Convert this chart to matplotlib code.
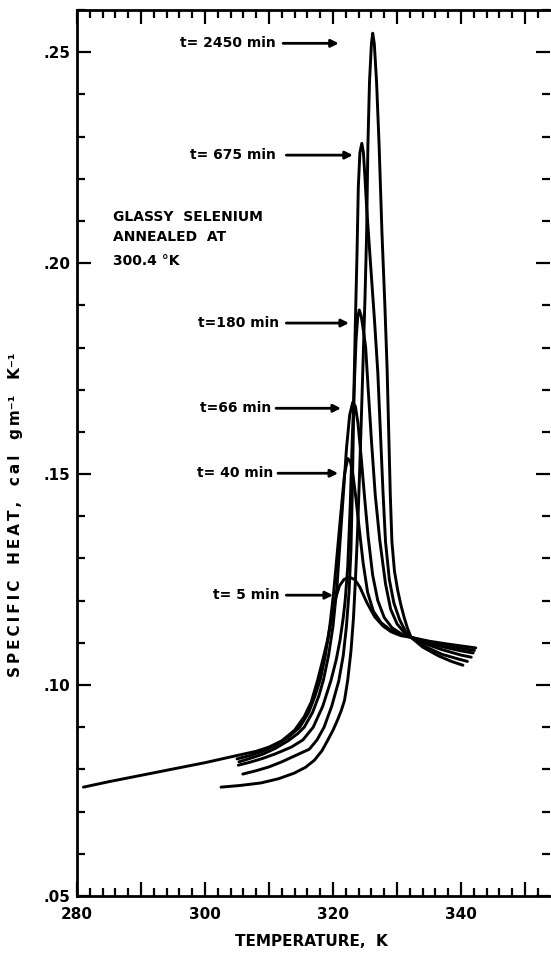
import matplotlib
matplotlib.use("Agg")
import matplotlib.pyplot as plt
from matplotlib.ticker import MultipleLocator, FuncFormatter

plt.rcParams['font.family'] = ['DejaVu Sans']
plt.rcParams['font.weight'] = 'bold'

# specific heat curves after annealing at 300.4 K (temperature in K, cp in cal/g/K)
t5_T = [281.0, 285, 290, 295, 300, 305, 308, 310, 312, 314, 315.5, 316.6, 317.6, 318.4,
        319.2, 319.8, 320.4, 321.0, 321.7, 322.5, 323.4, 324.2, 325.3, 326.5, 327.8,
        329.1, 330.6, 332.2, 335, 338, 342.3]
t5_cp = [0.0758, 0.0771, 0.0786, 0.0801, 0.0816, 0.0833, 0.0843, 0.0853, 0.0868, 0.0893,
         0.0925, 0.0960, 0.1012, 0.1060, 0.1110, 0.1160, 0.1205, 0.1235, 0.1250, 0.1256,
         0.1250, 0.1232, 0.1195, 0.1162, 0.1140, 0.1126, 0.1117, 0.1113, 0.1104, 0.1097,
         0.1088]

t40_T = [305.0, 307, 309, 311, 313, 314.8, 316.2, 317.2, 318.0, 318.8, 319.5, 320.1, 320.7,
         321.3, 321.8, 322.3, 322.7, 323.1, 323.6, 324.1, 324.7, 325.4, 326.3, 327.5,
         329.0, 330.6, 332.2, 334, 337, 340, 342.1]
t40_cp = [0.0825, 0.0833, 0.0843, 0.0857, 0.0876, 0.0900, 0.0935, 0.0975, 0.1012, 0.1070,
          0.1140, 0.1220, 0.1320, 0.1420, 0.1500, 0.1537, 0.1530, 0.1500, 0.1440, 0.1370,
          0.1290, 0.1220, 0.1175, 0.1148, 0.1130, 0.1120, 0.1113, 0.1106, 0.1096, 0.1087,
          0.1082]

t66_T = [305.3, 307, 309, 311, 313, 314.5, 315.5, 316.8, 317.8, 318.5, 319.3, 320.0, 320.6,
         321.1, 321.6, 322.1, 322.6, 323.1, 323.5, 323.9, 324.4, 324.9, 325.5, 326.2,
         327.0, 328.0, 329.2, 330.6, 332.2, 334, 337, 340, 341.9]
t66_cp = [0.0818, 0.0826, 0.0836, 0.0850, 0.0868, 0.0885, 0.0900, 0.0935, 0.0975, 0.1012,
          0.1070, 0.1140, 0.1230, 0.1340, 0.1450, 0.1560, 0.1640, 0.1671, 0.1660, 0.1620,
          0.1540, 0.1450, 0.1350, 0.1260, 0.1200, 0.1160, 0.1136, 0.1122, 0.1113, 0.1104,
          0.1091, 0.1081, 0.1076]

t180_T = [305.2, 307, 309, 311, 313.5, 315.3, 316.9, 318.4, 319.7, 320.5, 321.1, 321.6,
          321.9, 322.3, 322.7, 323.0, 323.3, 323.6, 323.85, 324.1, 324.4, 324.8, 325.1,
          325.5, 326.0, 326.6, 327.3, 328.2, 329.0, 330.0, 331.1, 332.2, 334, 337, 340,
          341.6]
t180_cp = [0.0810, 0.0817, 0.0826, 0.0837, 0.0853, 0.0870, 0.0900, 0.0950, 0.1012, 0.1060,
           0.1107, 0.1160, 0.1201, 0.1280, 0.1430, 0.1580, 0.1700, 0.1818, 0.1870, 0.1889,
           0.1875, 0.1835, 0.1800, 0.1700, 0.1580, 0.1450, 0.1344, 0.1240, 0.1180, 0.1145,
           0.1125, 0.1113, 0.1100, 0.1084, 0.1071, 0.1066]

t675_T = [305.9, 308, 310, 312, 314, 316.3, 317.5, 318.6, 319.8, 320.9, 321.6, 322.1, 322.5,
          322.8, 323.0, 323.15, 323.3, 323.5, 323.75, 323.95, 324.2, 324.5, 324.75, 325.0,
          325.25, 325.9, 326.5, 327.0, 327.4, 327.8, 328.2, 328.8, 329.5, 330.4, 331.3,
          332.2, 334, 337, 339.5, 341.0]
t675_cp = [0.0789, 0.0797, 0.0806, 0.0818, 0.0832, 0.0848, 0.0870, 0.0900, 0.0950, 0.1010,
           0.1070, 0.1140, 0.1220, 0.1320, 0.1450, 0.1580, 0.1720, 0.1865, 0.2024, 0.2180,
           0.2262, 0.2284, 0.2262, 0.2200, 0.2133, 0.1990, 0.1860, 0.1740, 0.1600, 0.1460,
           0.1340, 0.1250, 0.1195, 0.1155, 0.1128, 0.1113, 0.1094, 0.1073, 0.1062, 0.1056]

t2450_T = [302.5, 305.5, 308.75, 311.5, 313.9, 315.7, 317.1, 318.3, 319.2, 320.0, 320.7,
           321.3, 321.8, 322.3, 322.8, 323.2, 323.5, 323.8, 324.1, 324.4, 324.7, 325.0,
           325.25, 325.45, 325.7, 326.0, 326.2, 326.45, 326.8, 327.2, 327.65, 328.1,
           328.45, 328.7, 328.95, 329.2, 329.6, 330.1, 330.6, 331.1, 331.6, 332.2, 334,
           336.5, 338.5, 340.3]
t2450_cp = [0.0758, 0.0762, 0.0768, 0.0778, 0.0791, 0.0805, 0.0822, 0.0845, 0.0870, 0.0893,
            0.0917, 0.0940, 0.0964, 0.1012, 0.1080, 0.1160, 0.1250, 0.1350, 0.1480, 0.1620,
            0.1770, 0.1920, 0.2070, 0.2280, 0.2430, 0.2520, 0.2545, 0.2520, 0.2430, 0.2280,
            0.2070, 0.1900, 0.1750, 0.1600, 0.1450, 0.1340, 0.1270, 0.1225, 0.1190, 0.1161,
            0.1136, 0.1113, 0.1090, 0.1069, 0.1056, 0.1047]

series = [(t5_T, t5_cp), (t40_T, t40_cp), (t66_T, t66_cp),
          (t180_T, t180_cp), (t675_T, t675_cp), (t2450_T, t2450_cp)]

# annealing-time labels: text, text right edge (T, cp), arrow start T, arrow tip T
anneal_labels = ['t= 2450 min', 't= 675 min', 't=180 min', 't=66 min', 't= 40 min', 't= 5 min']
label_T = [311.1, 311.1, 311.6, 310.3, 310.6, 311.6]
label_cp = [0.2521, 0.2256, 0.1858, 0.1656, 0.1502, 0.1213]
arrow_start = [312.2, 312.7, 312.7, 311.1, 311.4, 312.7]
arrow_tip = [320.9, 323.1, 322.5, 321.25, 320.8, 320.0]


def spaced(word):
    # thin spaces between letters for a wider lettering
    return '\u2009'.join(word)


fig = plt.figure(figsize=(5.51, 9.59), dpi=100)
ax = fig.add_axes([77 / 551, 63 / 959, 473 / 551, 886 / 959])

for T, cp in series:
    ax.plot(T, cp, color='black', lw=2.1, solid_capstyle='round')

for txt, tx, ty, a0, a1 in zip(anneal_labels, label_T, label_cp, arrow_start, arrow_tip):
    ax.text(tx, ty, txt, ha='right', va='center', fontsize=10, fontweight='bold')
    ax.annotate('', xy=(a1, ty), xytext=(a0, ty),
                arrowprops=dict(arrowstyle='-|>', color='black', lw=2.0,
                                mutation_scale=11, shrinkA=0, shrinkB=0))

ax.text(285.6, 0.2109, 'GLASSY  SELENIUM', fontsize=10, va='center')
ax.text(285.6, 0.2063, 'ANNEALED  AT', fontsize=10, va='center')
ax.text(285.6, 0.2004, '300.4 °K', fontsize=10, va='center')

ax.set_xlim(280, 353.9)
ax.set_ylim(0.05, 0.26)

ax.xaxis.set_major_locator(MultipleLocator(10))
ax.xaxis.set_minor_locator(MultipleLocator(2))
ax.xaxis.set_major_formatter(FuncFormatter(lambda v, p: f'{v:.0f}' if round(v) % 20 == 0 else ''))
ax.yaxis.set_major_locator(MultipleLocator(0.05))
ax.yaxis.set_minor_locator(MultipleLocator(0.01))
ax.yaxis.set_major_formatter(FuncFormatter(lambda v, p: f'{v:.2f}'.lstrip('0')))

ax.tick_params(which='both', direction='in', top=True, right=True, width=1.6, labelsize=11)
ax.tick_params(which='major', length=10)
ax.tick_params(which='minor', length=6)
ax.tick_params(axis='x', pad=8)
ax.tick_params(axis='y', pad=5)

for side in ['left', 'bottom', 'top']:
    ax.spines[side].set_linewidth(2.0)
ax.spines['right'].set_visible(False)

fig.text(311 / 551, 1 - 942 / 959, 'TEMPERATURE,  K', ha='center', va='center', fontsize=11)
ylab = '   '.join([spaced('SPECIFIC'), spaced('HEAT,'), spaced('cal'),
                   spaced('gm') + '⁻¹', 'K⁻¹'])
fig.text(16 / 551, 1 - 515 / 959, ylab,
         ha='center', va='center', rotation=90, fontsize=11)

fig.savefig('out.png', dpi=100)
